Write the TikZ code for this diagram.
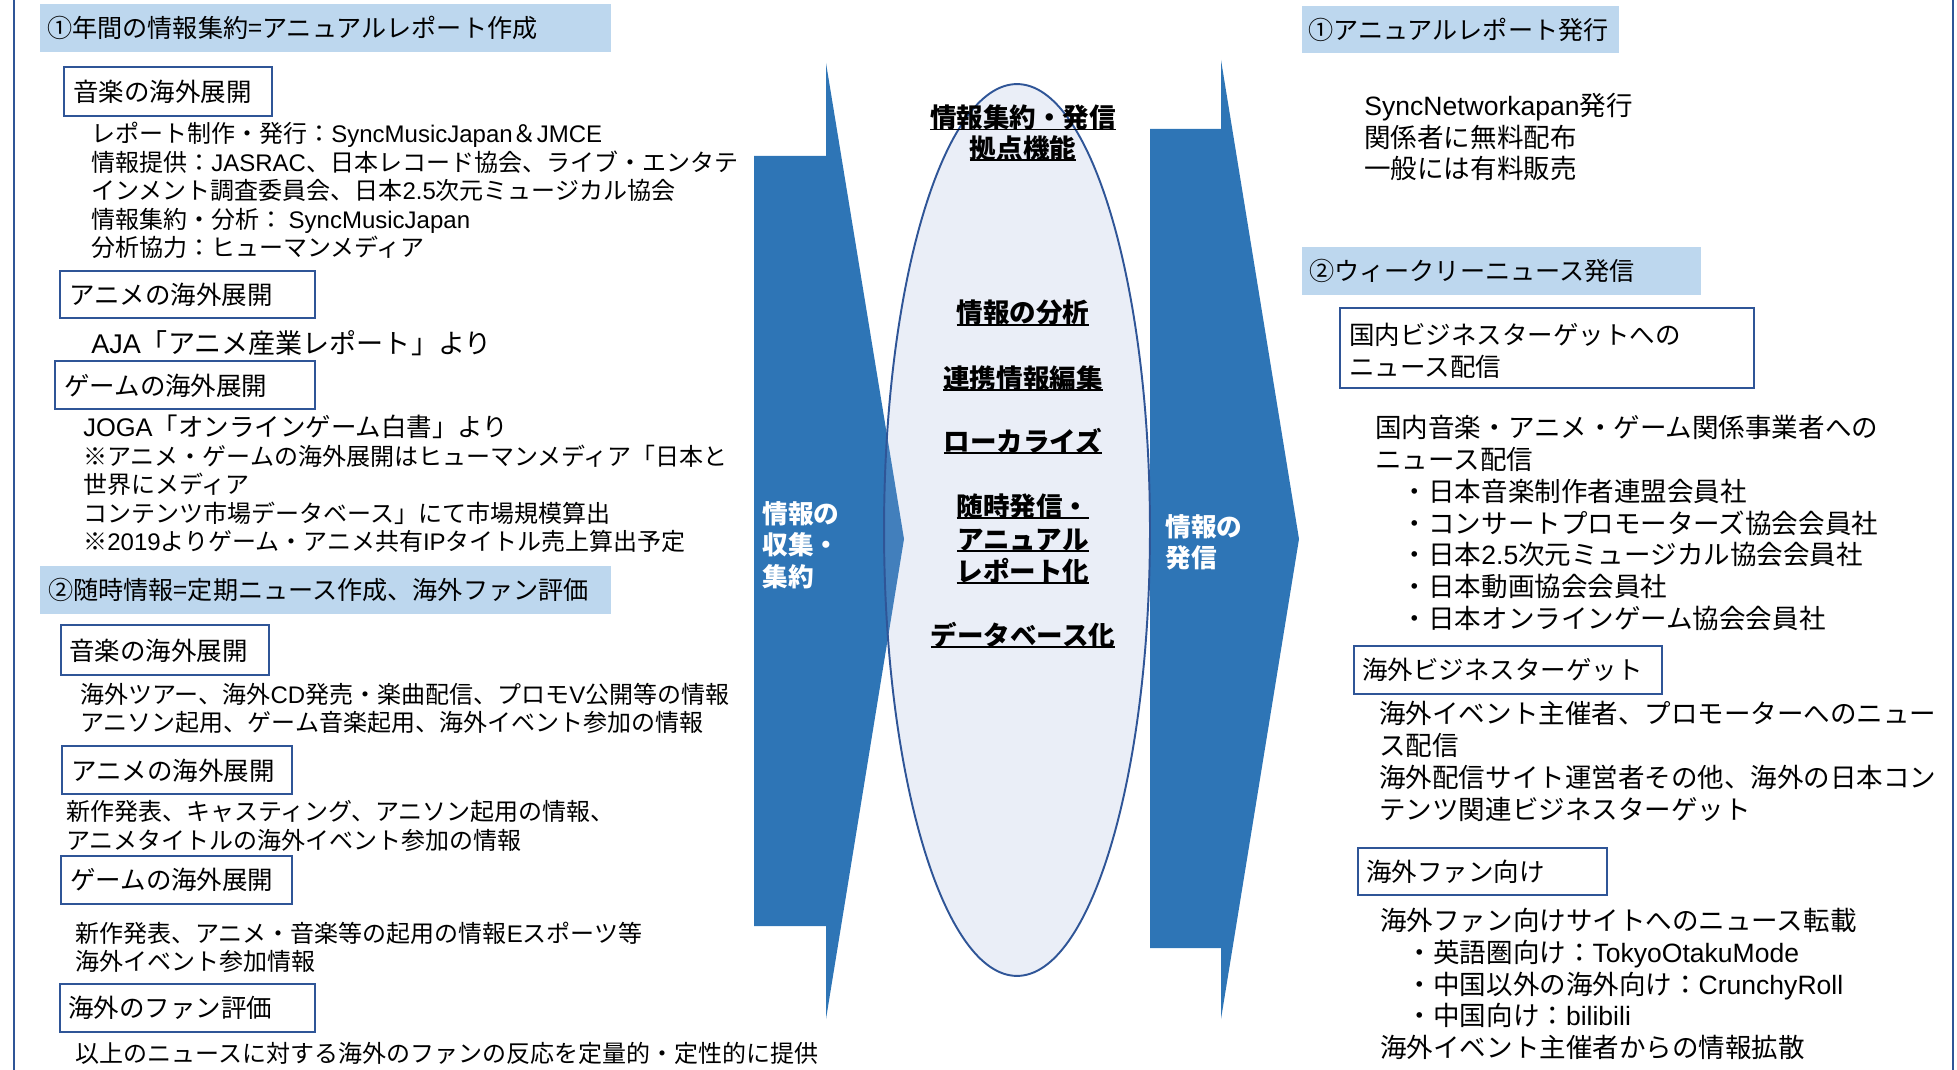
\documentclass[tikz,border=0pt]{standalone}
\usepackage{fontspec}
\setmainfont{Noto Sans CJK JP}
\newfontfamily\arialfont{Liberation Sans}
\usepackage{xcolor}
\usetikzlibrary{positioning}

\definecolor{flowblue}{RGB}{46,117,182}
\definecolor{hdrblue}{RGB}{189,215,238}
\definecolor{lineblue}{RGB}{47,85,151}
\definecolor{hubfill}{RGB}{150,170,215}

\newcommand\hubline[1]{\setbox0\hbox{#1}\rlap{\rule[-0.1em]{\wd0}{1pt}}\box0}
\newcommand\latn[1]{{\arialfont #1}}

\tikzset{
  hdrbox/.style={fill=hdrblue, draw=none},
  lblbox/.style={draw=lineblue, line width=1.1pt, fill=white},
  frame/.style={draw=lineblue, line width=1.4pt},
  hdrtext/.style={anchor=west, inner sep=0pt, font=\fontsize{14.3pt}{16pt}\selectfont},
  lbltext/.style={anchor=west, align=left, inner sep=0pt, font=\fontsize{14.5pt}{18.2pt}\selectfont},
  lbody/.style={anchor=west, align=left, inner sep=0pt, font=\fontsize{13.66pt}{16.2pt}\selectfont},
  rbody/.style={anchor=west, align=left, inner sep=0pt, font=\fontsize{15.1pt}{18.1pt}\selectfont},
  hub/.style={align=center, inner sep=0pt, font=\bfseries\fontsize{15.1pt}{18.5pt}\selectfont},
  flowtext/.style={anchor=west, align=left, inner sep=0pt, text=white, font=\bfseries\fontsize{14.6pt}{17.9pt}\selectfont},
}

\begin{document}
\begin{tikzpicture}[x=0.02cm, y=-0.02cm]
    \useasboundingbox (0,0) rectangle (1957,1070);

    % outer frame
    \draw[frame] (14,0) -- (14,1070);
    \draw[frame] (1953,0) -- (1953,1070);

    % left column: collected information
    \fill[hdrbox] (40,4) rectangle (611,52);
    \node[hdrtext] (hdrA) at (47,28) {①年間の情報集約=アニュアルレポート作成};

    \draw[lblbox] (64,67) rectangle (272,116);
    \node[lbltext] (musicA) at (73,92) {音楽の海外展開};
    \node[lbody] (musicAtxt) at (91,190.5) {レポート制作・発行：\latn{SyncMusicJapan}＆\latn{JMCE}\\情報提供：\latn{JASRAC}、日本レコード協会、ライブ・エンタテ\\インメント調査委員会、日本\latn{2.5}次元ミュージカル協会\\情報集約・分析： \latn{SyncMusicJapan}\\分析協力：ヒューマンメディア};

    \draw[lblbox] (60,271) rectangle (315,318);
    \node[lbltext] (animeA) at (69,295) {アニメの海外展開};
    \node[lbody, font=\fontsize{15.4pt}{16.2pt}\selectfont] (animeAtxt) at (91,343) {\latn{AJA}「アニメ産業レポート」より};

    \draw[lblbox] (55,361) rectangle (315,409);
    \node[lbltext] (gameA) at (64,386) {ゲームの海外展開};
    \node[lbody] (gameAtxt) at (83,484) {{\fontsize{14.5pt}{16.2pt}\selectfont\latn{JOGA}「オンラインゲーム白書」より}\\※アニメ・ゲームの海外展開はヒューマンメディア「日本と\\世界にメディア\\コンテンツ市場データベース」にて市場規模算出\\※\latn{2019}よりゲーム・アニメ共有\latn{IP}タイトル売上算出予定};

    \fill[hdrbox] (40,566) rectangle (611,614);
    \node[hdrtext] (hdrB) at (48,590) {②随時情報=定期ニュース作成、海外ファン評価};

    \draw[lblbox] (61,625) rectangle (269,675);
    \node[lbltext] (musicB) at (69,651) {音楽の海外展開};
    \node[lbody] (musicBtxt) at (80,708.5) {海外ツアー、海外\latn{CD}発売・楽曲配信、プロモ\latn{V}公開等の情報\\アニソン起用、ゲーム音楽起用、海外イベント参加の情報};

    \draw[lblbox] (62,746) rectangle (292,794);
    \node[lbltext] (animeB) at (71,771) {アニメの海外展開};
    \node[lbody] (animeBtxt) at (66,826) {新作発表、キャスティング、アニソン起用の情報、\\アニメタイトルの海外イベント参加の情報};

    \draw[lblbox] (61,856) rectangle (292,904);
    \node[lbltext] (gameB) at (70,880) {ゲームの海外展開};
    \node[lbody] (gameBtxt) at (75,947.5) {新作発表、アニメ・音楽等の起用の情報\latn{E}スポーツ等\\海外イベント参加情報};

    \draw[lblbox] (60,984) rectangle (315,1032);
    \node[lbltext] (fanB) at (68,1008) {海外のファン評価};
    \node[lbody] (fanBtxt) at (75,1053) {以上のニュースに対する海外のファンの反応を定量的・定性的に提供};

    % flow arrows
    \fill[flowblue] (754,156) -- (826,156) -- (826,63) -- (904,539) -- (826,1019) -- (826,926) -- (754,926) -- cycle;
    \fill[flowblue] (1150,129) -- (1221,129) -- (1221,60) -- (1299,539) -- (1221,1019) -- (1221,948) -- (1150,948) -- cycle;

    % hub ellipse
    \draw[draw=lineblue, line width=1.1pt, fill=hubfill, fill opacity=0.2] (1017,530) ellipse [x radius=2.66cm, y radius=8.92cm];

    \node[flowtext] (collect) at (762,545) {情報の\\収集・\\集約};
    \node[flowtext] (send) at (1165,542.5) {情報の\\発信};

    \node[hub, font=\bfseries\fontsize{15.1pt}{17.4pt}\selectfont] (hubTitle) at (1023,133) {\hubline{情報集約・発信}\\\hubline{拠点機能}};
    \node[hub] (hubAnalyse) at (1023,313) {\hubline{情報の分析}};
    \node[hub] (hubEdit) at (1023,378) {\hubline{連携情報編集}};
    \node[hub] (hubLocal) at (1023,441) {\hubline{ローカライズ}};
    \node[hub] (hubReport) at (1023,539) {\hubline{随時発信・}\\\hubline{アニュアル}\\\hubline{レポート化}};
    \node[hub] (hubDb) at (1023,635) {\hubline{データベース化}};

    % right column: distribution
    \fill[hdrbox] (1302,6) rectangle (1619,53);
    \node[hdrtext] (hdrC) at (1308,30) {①アニュアルレポート発行};
    \node[rbody] (reportTxt) at (1364,137) {\latn{SyncNetworkapan}発行\\関係者に無料配布\\一般には有料販売};

    \fill[hdrbox] (1302,247) rectangle (1701,295);
    \node[hdrtext] (hdrD) at (1309,271) {②ウィークリーニュース発信};

    \draw[lblbox] (1340,308) rectangle (1754,388);
    \node[lbltext] (domestic) at (1349,351) {国内ビジネスターゲットへの\\ニュース配信};
    \node[rbody] (domesticTxt) at (1375,523) {国内音楽・アニメ・ゲーム関係事業者への\\ニュース配信\\\hspace*{1em}・日本音楽制作者連盟会員社\\\hspace*{1em}・コンサートプロモーターズ協会会員社\\\hspace*{1em}・日本\latn{2.5}次元ミュージカル協会会員社\\\hspace*{1em}・日本動画協会会員社\\\hspace*{1em}・日本オンラインゲーム協会会員社};

    \draw[lblbox] (1354,646) rectangle (1662,694);
    \node[lbltext] (overseas) at (1362,670) {海外ビジネスターゲット};
    \node[rbody] (overseasTxt) at (1379,761.5) {海外イベント主催者、プロモーターへのニュー\\ス配信\\海外配信サイト運営者その他、海外の日本コン\\テンツ関連ビジネスターゲット};

    \draw[lblbox] (1358,848) rectangle (1607,895);
    \node[lbltext] (fans) at (1366,872) {海外ファン向け};
    \node[rbody] (fansTxt) at (1380,984) {海外ファン向けサイトへのニュース転載\\\hspace*{1em}・英語圏向け：\latn{TokyoOtakuMode}\\\hspace*{1em}・中国以外の海外向け：\latn{CrunchyRoll}\\\hspace*{1em}・中国向け：\latn{bilibili}\\海外イベント主催者からの情報拡散};
\end{tikzpicture}
\end{document}
